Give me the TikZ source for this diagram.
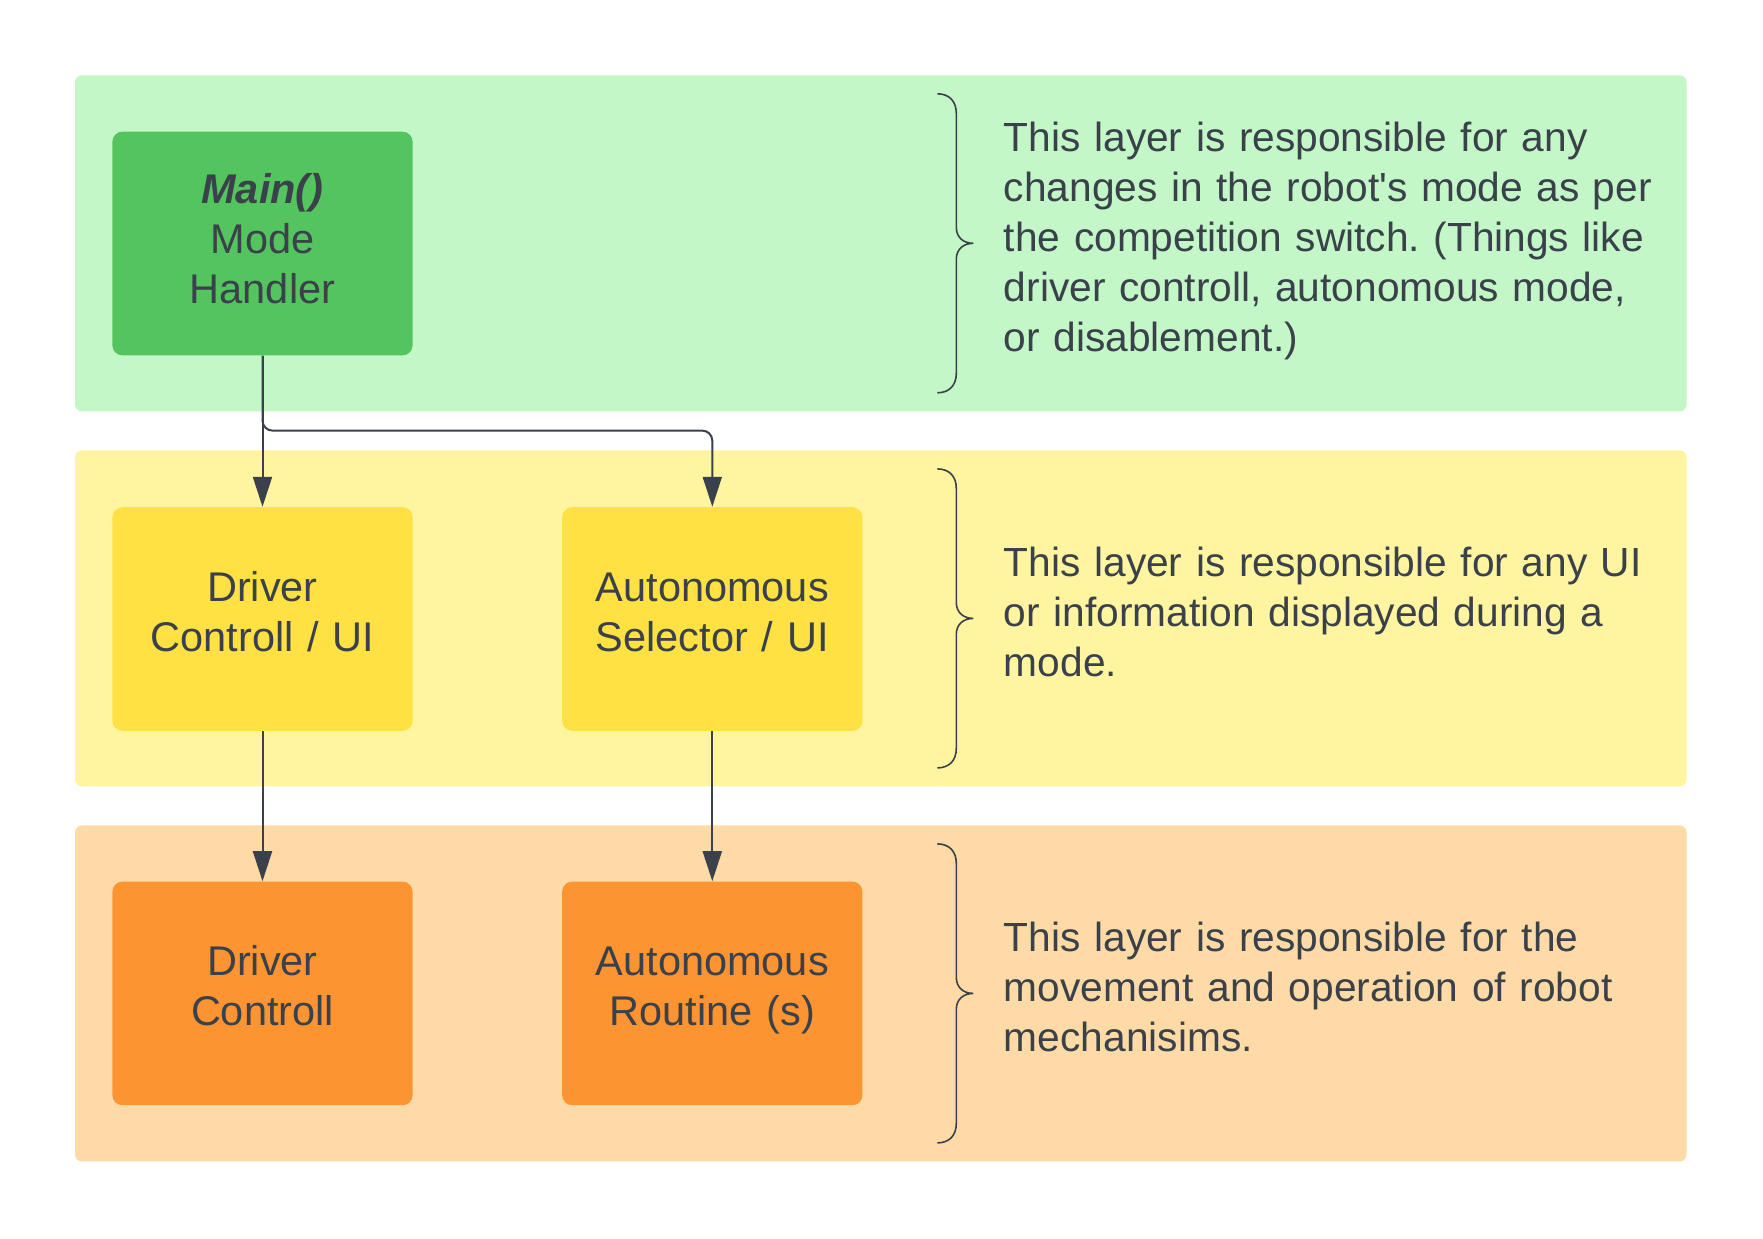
\documentclass[tikz,border=0pt]{standalone}
\usepackage{fontspec}
\setmainfont{Liberation Sans}[Ligatures=TeXOff]
\usetikzlibrary{arrows.meta}
\frenchspacing
\definecolor{ink}{HTML}{3A414A}
\definecolor{lgreen}{HTML}{C3F7C8}
\definecolor{dgreen}{HTML}{54C45E}
\definecolor{lyellow}{HTML}{FFF5A1}
\definecolor{dyellow}{HTML}{FFE143}
\definecolor{lorange}{HTML}{FEDBA6}
\definecolor{dorange}{HTML}{FC9432}
\newcommand\deepstrut{\rule[-10.3pt]{0pt}{10pt}}
\tikzset{
  layer/.style={draw=none, rounded corners=3.5pt, minimum width=805.8pt, minimum height=168pt, inner sep=0pt},
  blockbox/.style={draw=none, rounded corners=5pt, minimum width=150.1pt, minimum height=111.8pt, inner sep=0pt,
     text width=140pt, align=center, text=ink, font=\fontsize{20.75}{25}\selectfont},
  desc/.style={anchor=west, inner sep=0pt, text width=350pt, align=left, text=ink, font=\fontsize{20.35}{25}\selectfont},
  arr/.style={draw=ink, line width=1pt, -{Triangle[width=9.5pt,length=15pt]}},
  lbrace/.pic={\draw[ink, line width=0.8pt] (-36,-149.5) .. controls (-24,-149.5) and (-17,-142) .. (-17,-130) -- (-17,-16) .. controls (-17,-6) and (-10,0) .. (0,0) .. controls (-10,0) and (-17,6) .. (-17,16) -- (-17,130) .. controls (-17,142) and (-24,149.5) .. (-36,149.5);}
}
\begin{document}
\begin{tikzpicture}[x=0.5pt,y=-0.5pt]
\useasboundingbox[fill=white] (0,0) rectangle (1763,1238);
% layers
\node[layer, fill=lgreen] (layer1) at (880.8,243.3) {};
\node[layer, fill=lyellow] (layer2) at (880.8,618.4) {};
\node[layer, fill=lorange] (layer3) at (880.8,993.4) {};
% blocks
\node[blockbox, fill=dgreen] (main) at (262.5,243.5) {\strut\textbf{\textit{Main()}}\\Mode\\Handler\strut};
\node[blockbox, fill=dyellow] (driverui) at (262.5,619) {\strut Driver\\Controll / UI\deepstrut};
\node[blockbox, fill=dyellow] (autoui) at (712.3,619) {\strut Autonomous\\Selector / UI\deepstrut};
\node[blockbox, fill=dorange] (driver) at (262.5,993.4) {\strut Driver\\Controll\deepstrut};
\node[blockbox, fill=dorange] (autorout) at (712.3,993.4) {\strut Autonomous\\Routine (s)\deepstrut};
% connectors
\coordinate (split) at (262.5,430.6);
\draw[arr] (main.south) -- (driverui.north);
\draw[arr, rounded corners=5pt] (main.south) -- (split) -| (autoui.north);
\draw[arr] (driverui.south) -- (driver.north);
\draw[arr] (autoui.south) -- (autorout.north);
% braces
\pic at (973.3,243.3) {lbrace};
\pic at (973.3,618.4) {lbrace};
\pic at (973.3,993.4) {lbrace};
% descriptions
\node[desc] (d1) at (1003.5,241.3) {\strut This layer is responsible for any\\changes in the robot's mode as per\\the competition switch. (Things like\\driver controll, autonomous mode,\\or disablement.)\strut};
\node[desc] (d2) at (1003.5,616.4) {\strut This layer is responsible for any UI\\or information displayed during a\\mode.\strut};
\node[desc] (d3) at (1003.5,991.4) {\strut This layer is responsible for the\\movement and operation of robot\\mechanisims.\strut};
\end{tikzpicture}
\end{document}
